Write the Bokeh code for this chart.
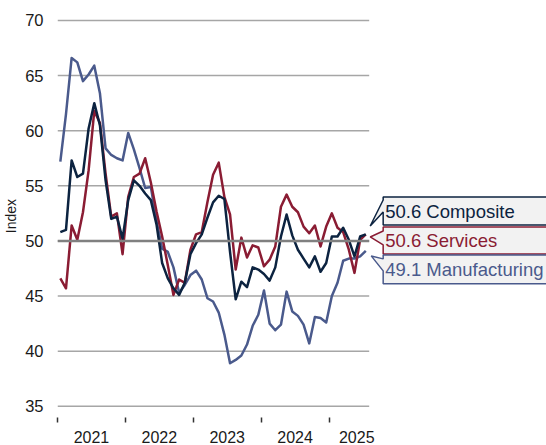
from bokeh.plotting import figure
from bokeh.models import Range1d, FixedTicker, Label, PolyAnnotation
from bokeh.embed import file_html
from bokeh.resources import INLINE

# Monthly index values, Jan 2021 .. Jul 2025
composite = [50.8, 51.0, 57.3, 55.8, 56.1, 60.2, 62.5, 60.5, 55.5, 52.0,
             52.2, 50.2, 53.7, 55.5, 55.0, 54.3, 53.7, 51.5, 48.0, 46.6,
             45.7, 45.1, 46.2, 48.8, 49.8, 50.6, 52.1, 53.5, 54.1, 53.8,
             49.0, 44.7, 46.3, 45.8, 47.6, 47.4, 47.0, 46.4, 47.6, 50.4,
             52.4, 50.5, 49.2, 48.4, 47.6, 48.6, 47.2, 48.0, 50.4, 50.4,
             51.2, 50.1, 48.6, 50.4, 50.6]
services = [46.6, 45.7, 51.4, 50.1, 52.6, 56.4, 61.8, 60.7, 56.1, 52.2,
            52.5, 48.8, 54.0, 55.8, 56.1, 57.5, 55.3, 52.7, 50.4, 47.8,
            45.1, 46.5, 46.2, 49.2, 50.6, 50.8, 53.5, 56.0, 57.1, 54.0,
            52.4, 47.4, 50.3, 48.5, 49.6, 49.4, 47.7, 48.3, 49.5, 53.1,
            54.2, 53.1, 52.6, 51.3, 50.7, 51.4, 49.5, 51.3, 52.5, 51.2,
            50.8, 49.2, 47.1, 50.1, 50.6]
manufacturing = [57.2, 61.5, 66.6, 66.2, 64.5, 65.1, 65.9, 63.4, 58.4, 57.8,
                 57.5, 57.3, 59.8, 58.3, 56.6, 54.8, 54.9, 51.8, 49.3, 49.0,
                 47.6, 45.3, 46.0, 46.9, 47.3, 46.5, 44.8, 44.5, 43.5, 41.5,
                 38.9, 39.2, 39.6, 40.6, 42.3, 43.3, 45.5, 42.5, 41.9, 42.4,
                 45.4, 43.6, 43.2, 42.4, 40.7, 43.1, 43.0, 42.6, 45.0, 46.2,
                 48.2, 48.4, 48.4, 48.6, 49.1]
months = list(range(len(composite)))

year_labels = ["2021", "2022", "2023", "2024", "2025"]
year_label_pos = [5.5, 17.5, 29.5, 41.5, 52.4]
year_bounds = [-0.5, 11.5, 23.5, 35.5, 47.5]
y_ticks = [35, 40, 45, 50, 55, 60, 65, 70]
reference_level = 50

NAVY = "#0c2340"
RED = "#8a1c33"
BLUE = "#4a5a8c"
FONT = "Liberation Sans"

# layout (page pixels; Bokeh page has no body margin)
W, H = 546, 445
LEFT, TOP, BOTTOM = 55, 14, 418
PX_MONTH = 5.68
PX_UNIT = 11.049
X0 = -0.5
X_GRID_END = 54.6
x_end = X0 + (W - LEFT) / PX_MONTH
y_end = 70 + (20 - TOP) / PX_UNIT
y_start = y_end - (BOTTOM - TOP) / PX_UNIT

p = figure(width=W, height=H, output_backend="svg", toolbar_location=None,
           x_range=Range1d(X0, x_end), y_range=Range1d(y_start, y_end),
           min_border_left=LEFT, min_border_right=0, min_border_top=TOP,
           min_border_bottom=H - BOTTOM)
p.outline_line_color = None

# x axis: year boundaries as minor ticks, year names centred
p.xaxis.ticker = FixedTicker(ticks=year_label_pos, minor_ticks=year_bounds)
p.xaxis.major_label_overrides = {pos: lab for pos, lab in zip(year_label_pos, year_labels)}
p.xaxis.major_tick_line_color = None
p.xaxis.minor_tick_line_color = "#333333"
p.xaxis.minor_tick_line_width = 1.5
p.xaxis.minor_tick_in = 0
p.xaxis.minor_tick_out = 5
p.xaxis.axis_line_color = None
p.xaxis.major_label_standoff = 7
p.xaxis.major_label_text_font = FONT
p.xaxis.major_label_text_font_size = "16px"
p.xaxis.major_label_text_color = "#1a1a1a"

p.yaxis.ticker = FixedTicker(ticks=y_ticks)
p.yaxis.major_tick_line_color = None
p.yaxis.minor_tick_line_color = None
p.yaxis.axis_line_color = None
p.yaxis.major_label_standoff = 8
p.yaxis.major_label_text_font = FONT
p.yaxis.major_label_text_font_size = "16.5px"
p.yaxis.major_label_text_color = "#1a1a1a"
p.yaxis.axis_label = "Index"
p.yaxis.axis_label_text_font = FONT
p.yaxis.axis_label_text_font_size = "14px"
p.yaxis.axis_label_text_font_style = "normal"
p.yaxis.axis_label_text_color = "#1a1a1a"
p.yaxis.axis_label_standoff = 3

p.xgrid.grid_line_color = None
p.ygrid.grid_line_color = None

# horizontal grid lines limited to the data area
p.segment(x0=[X0] * len(y_ticks), x1=[X_GRID_END] * len(y_ticks), y0=y_ticks, y1=y_ticks,
          line_color="#a6a6a6", line_width=1.5)

p.line(months, manufacturing, line_color=BLUE, line_width=2.5, line_join="round")
p.line(months, services, line_color=RED, line_width=2.5, line_join="round")
p.line(months, composite, line_color=NAVY, line_width=2.5, line_join="round")

p.segment(x0=[X0], x1=[X_GRID_END], y0=[reference_level], y1=[reference_level],
          line_color="#808080", line_width=2.5)

# page pixel -> data helpers (for callout layout only)
def dx(px):
    return X0 + (px - LEFT) / PX_MONTH

def dy(py):
    return y_end - (py - TOP) / PX_UNIT

callouts = [
    ("Composite", composite, NAVY, 197, 225, 200, 212, 369, 226),
    ("Services", services, RED, 227, 254, 231, 245, 369, 237),
    ("Manufacturing", manufacturing, BLUE, 255, 284, 259, 271, 370, 256),
]
for name, series, col, top, bot, b1, b2, tx, ty in callouts:
    xs = [dx(382), dx(600), dx(600), dx(382), dx(382), dx(tx), dx(382)]
    ys = [dy(top), dy(top), dy(bot), dy(bot), dy(b2), dy(ty), dy(b1)]
    p.add_layout(PolyAnnotation(xs=xs, ys=ys, fill_color="#f2f2f2", fill_alpha=1.0,
                                line_color=col, line_alpha=1.0, line_width=1.5))
    p.add_layout(Label(x=dx(384), y=dy((top + bot) / 2), text=f"{series[-1]:.1f} {name}",
                       text_baseline="middle", text_align="left", text_font=FONT,
                       text_font_size="18.5px", text_color=col))

open("out.html", "w").write(file_html(p, INLINE))
